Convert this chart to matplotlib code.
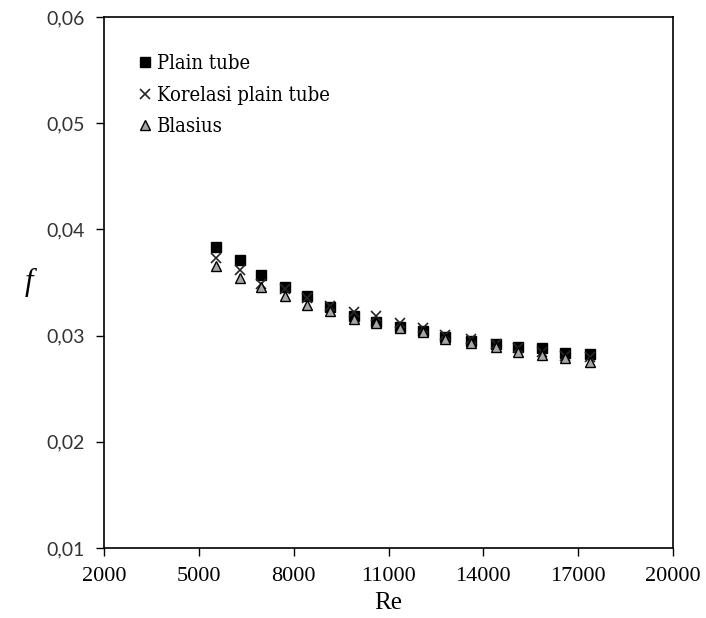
import matplotlib
matplotlib.use("Agg")
import matplotlib.pyplot as plt
from matplotlib.ticker import FixedLocator, FuncFormatter

plt.rcParams["font.family"] = ["Liberation Serif", "DejaVu Serif"]

re_vals = [5550, 6300, 6970, 7730, 8430, 9160, 9920, 10620, 11350,
           12080, 12800, 13600, 14390, 15090, 15850, 16580, 17370]
f_plain = [0.0383, 0.0371, 0.0357, 0.0346, 0.0337, 0.0327, 0.0318, 0.0313, 0.0308,
           0.0304, 0.0299, 0.0295, 0.0292, 0.0289, 0.0288, 0.0284, 0.0283]
f_korelasi = [0.0373, 0.0362, 0.0349, 0.0344, 0.0335, 0.0328, 0.0322, 0.0318, 0.0312,
              0.0307, 0.0301, 0.0297, 0.0292, 0.0288, 0.0285, 0.0281, 0.0280]
f_blasius = [0.0366, 0.0354, 0.0346, 0.0337, 0.0329, 0.0323, 0.0316, 0.0312, 0.0307,
             0.0303, 0.0297, 0.0293, 0.0289, 0.0285, 0.0282, 0.0279, 0.0275]

x_ticks = [2000, 5000, 8000, 11000, 14000, 17000, 20000]
y_ticks = [0.01, 0.02, 0.03, 0.04, 0.05, 0.06]

fig = plt.figure(figsize=(7.06, 6.18), dpi=100)
# axes box: x 104..673 px, y 17..548 px
ax = fig.add_axes([104 / 706, 1 - 548 / 618, 569 / 706, 531 / 618])

ax.plot(re_vals, f_plain, ls="none", marker="s", ms=6.5, color="black",
        label="Plain tube", zorder=3)
ax.plot(re_vals, f_korelasi, ls="none", marker="x", ms=7.5, mew=1.2,
        color="#262626", label="Korelasi plain tube", zorder=4)
ax.plot(re_vals, f_blasius, ls="none", marker="^", ms=7, mfc="#a6a6a6",
        mec="black", mew=1.0, label="Blasius", zorder=5)

ax.set_xlim(2000, 20000)
ax.set_ylim(0.01, 0.06)
ax.xaxis.set_major_locator(FixedLocator(x_ticks))
ax.yaxis.set_major_locator(FixedLocator(y_ticks))
ax.yaxis.set_major_formatter(FuncFormatter(lambda v, p: f"{v:.2f}".replace(".", ",")))
ax.tick_params(direction="out", length=6, width=1, top=False, right=False)
ax.tick_params(axis="x", labelsize=16, pad=8)
ax.tick_params(axis="y", labelsize=14, pad=8)
for lab in ax.get_yticklabels():
    lab.set_family(["Lato", "DejaVu Sans"])
    lab.set_color("#333333")
for s in ax.spines.values():
    s.set_linewidth(1.2)

ax.set_xlabel("Re", fontsize=18, labelpad=4)
ax.set_ylabel("f", fontsize=22, fontstyle="italic", rotation=0, labelpad=12,
              va="center")

ax.legend(loc="upper left", bbox_to_anchor=(0.062, 0.93), frameon=False,
          prop={"family": "DejaVu Serif", "stretch": "condensed", "size": 14.5},
          handlelength=0.6, handletextpad=0.3, labelspacing=0.62,
          borderaxespad=0, borderpad=0)

fig.savefig("out.png", dpi=100)
